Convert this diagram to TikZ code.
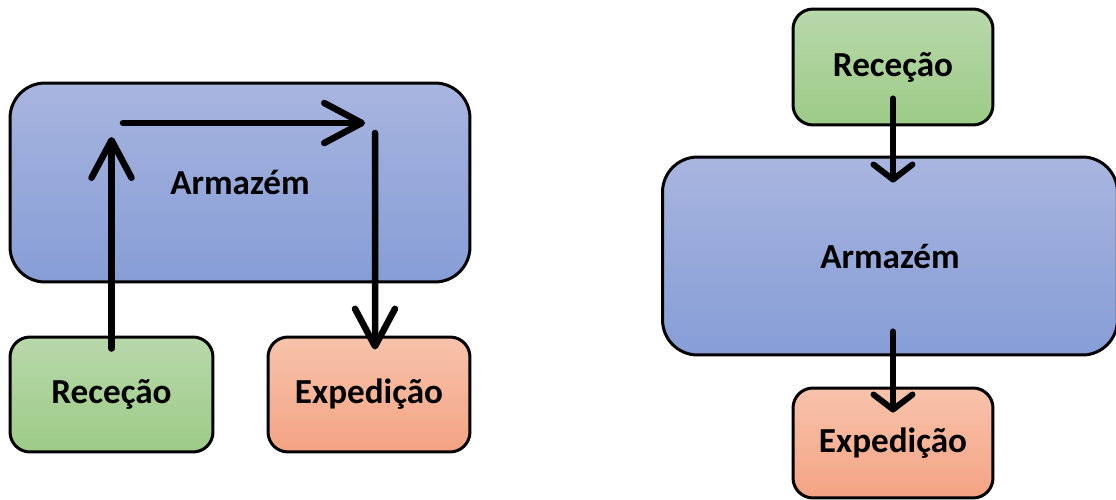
\documentclass[tikz,border=0pt]{standalone}
\usepackage{fontspec}
\setmainfont{Carlito}
\usepackage{tikz}
\usetikzlibrary{positioning, arrows.meta}

\definecolor{armtop}{RGB}{168,181,223}
\definecolor{armbot}{RGB}{134,157,214}
\definecolor{rectop}{RGB}{184,216,170}
\definecolor{recbot}{RGB}{157,203,135}
\definecolor{exptop}{RGB}{247,195,171}
\definecolor{expbot}{RGB}{244,163,131}

\begin{document}
\begin{tikzpicture}[x=0.02cm, y=-0.02cm,
		box/.style = {draw, line width=0.06cm, inner sep=0pt, font=\bfseries\fontsize{20}{24}\selectfont},
		armbox/.style = {box, rounded corners=0.7cm, top color=armtop, bottom color=armbot},
		recbox/.style = {box, rounded corners=0.4cm, top color=rectop, bottom color=recbot},
		expbox/.style = {box, rounded corners=0.4cm, top color=exptop, bottom color=expbot},
		flowbig/.style = {line width=0.13cm, line cap=round, -{Straight Barb[length=0.75cm, width=0.8cm, round]}},
		flowsmall/.style = {line width=0.12cm, line cap=round, -{Straight Barb[length=0.3cm, width=0.78cm, round]}}
	]
		\useasboundingbox (0,0) rectangle (1116,500);

		% left picture
		\node[armbox, minimum width=9.2cm, minimum height=3.98cm] (armL) at (240,182.5) {Armazém};
		\node[recbox, minimum width=4.06cm, minimum height=2.3cm] (recL) at (111.5,394.5) {Receção};
		\node[expbox, minimum width=4.04cm, minimum height=2.3cm] (expL) at (369,394.5) {Expedição};

		\coordinate (upL) at (111.5,137);
		\coordinate (goL1) at (123,123);
		\coordinate (goL2) at (365,123);
		\coordinate (dnL) at (375,133);

		\draw[flowbig] ([yshift=-0.26cm]recL.north) -- (upL);
		\draw[flowbig] (goL1) -- (goL2);
		\draw[flowbig] (dnL) -- ([xshift=0.12cm, yshift=-0.28cm]expL.north);

		% right picture
		\node[recbox, minimum width=4cm, minimum height=2.32cm] (recR) at (893,67) {Receção};
		\node[armbox, minimum width=9.1cm, minimum height=3.96cm] (armR) at (890,256) {Armazém};
		\node[expbox, minimum width=4cm, minimum height=2.2cm] (expR) at (893,443) {Expedição};

		\draw[flowsmall] ([yshift=0.56cm]recR.south) -- ([yshift=-0.54cm]recR |- armR.north);
		\draw[flowsmall] ([yshift=0.5cm]expR |- armR.south) -- ([yshift=-0.52cm]expR.north);
%		\draw[flowsmall] (armR) -- (expR);
	\end{tikzpicture}
\end{document}
